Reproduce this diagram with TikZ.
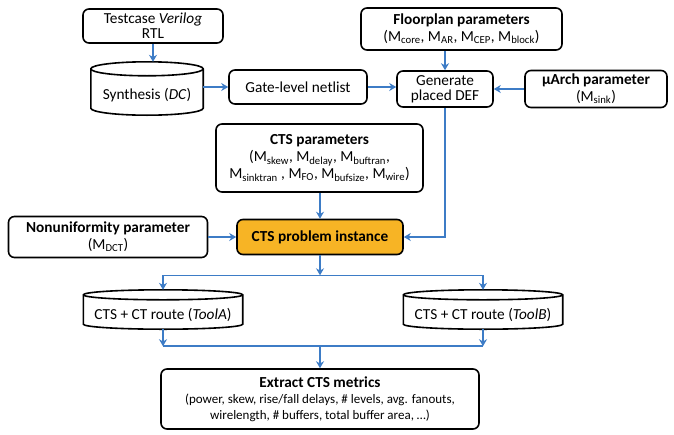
\documentclass[tikz,border=0pt]{standalone}
\usepackage{fontspec}
\setmainfont{Carlito}
\usepackage{tikz}
\usetikzlibrary{arrows.meta,calc,backgrounds}
\definecolor{flowblue}{HTML}{3D7CC6}
\definecolor{instorange}{HTML}{F7B425}

\begin{document}
\begin{tikzpicture}[
  x=1pt,y=1pt,
  font=\fontsize{15.3}{16.8}\selectfont,
  blk/.style={draw=black,line width=1.6pt,rounded corners=6pt,fill=white,
              inner sep=2pt,align=center},
  hot/.style={blk,fill=instorange},
  drum/.style={inner sep=0pt,align=center},
  outl/.style={draw=black,line width=1.6pt,fill=white},
  flow/.style={-{Stealth[length=7pt,width=8pt]},draw=flowblue,line width=1.5pt},
  wire/.style={draw=flowblue,line width=1.5pt}
]
\useasboundingbox (0,0) rectangle (674,-434);

%------ row 0 : inputs ---------------------------------------------------------
\node[blk,minimum width=140pt,minimum height=34pt] (rtl) at (153,-26)
      {Testcase \textit{Verilog}\\[-2pt]RTL};
\node[blk,minimum width=201pt,minimum height=42pt] (fpp) at (461.5,-29)
      {\textbf{Floorplan parameters}\\(M\textsubscript{core}, M\textsubscript{AR}, M\textsubscript{CEP}, M\textsubscript{block})};

%------ row 1 : synthesis -> netlist -> placed DEF ------------------------------
\node[drum,minimum width=112pt,minimum height=39pt] (syn) at (147,-95.5) {Synthesis (\textit{DC})};
\node[blk,minimum width=138pt,minimum height=34pt] (gln) at (298,-87) {Gate-level netlist};
\node[blk,minimum width=96pt,minimum height=36pt] (gpd) at (445,-89) {Generate\\[-2pt]placed DEF};
\node[blk,minimum width=142pt,minimum height=37pt] (uap) at (596,-89)
      {\textbf{µArch parameter}\\(M\textsubscript{sink})};

%------ row 2 : CTS setup --------------------------------------------------------
\node[blk,minimum width=207pt,minimum height=68pt] (ctp) at (319.5,-158)
      {\textbf{CTS parameters}\\(M\textsubscript{skew}, M\textsubscript{delay}, M\textsubscript{buftran},\\
       M\textsubscript{sinktran} , M\textsubscript{FO}, M\textsubscript{bufsize}, M\textsubscript{wire})};
\node[hot,minimum width=166pt,minimum height=35pt] (cpi) at (320,-237) {\textbf{CTS problem instance}};
\node[blk,minimum width=199pt,minimum height=41pt] (nup) at (108,-237)
      {\textbf{Nonuniformity parameter}\\(M\textsubscript{DCT})};

%------ row 3 : the two tools -----------------------------------------------------
\node[drum,minimum width=159pt,minimum height=29pt] (tla) at (163,-314.5) {CTS + CT route (\textit{ToolA})};
\node[drum,minimum width=159pt,minimum height=29pt] (tlb) at (483,-314.5) {CTS + CT route (\textit{ToolB})};

%------ row 4 : metrics ----------------------------------------------------------
\node[blk,minimum width=318pt,minimum height=60pt] (ecm) at (320,-399)
      {\textbf{Extract CTS metrics}\\[-1pt]
       {\fontsize{13}{15}\selectfont (power, skew, rise/fall delays, \# levels, avg. fanouts,}\\[-1pt]
       {\fontsize{13}{15}\selectfont wirelength, \# buffers, total buffer area, \dots)}};

%------ drum outlines -------------------------------------------------------------
\foreach \c/\r in {syn/7,tla/5,tlb/5}{
  \begin{scope}[on background layer]
  \draw[outl] let \p1=(\c.north west),\p2=(\c.south east),\n1={0.5*(\x2-\x1)} in
    (\x1,\y1+\r pt) -- (\x1,\y2+\r pt) arc[start angle=180,end angle=360,x radius=\n1,y radius=\r pt]
    -- (\x2,\y1+\r pt) arc[start angle=0,end angle=180,x radius=\n1,y radius=\r pt] -- cycle;
  \draw[outl,fill=none] let \p1=(\c.north west),\p2=(\c.south east),\n1={0.5*(\x2-\x1)} in
    (\x1,\y1+\r pt) arc[start angle=180,end angle=360,x radius=\n1,y radius=\r pt];
  \end{scope}
  \coordinate (\c-top) at ([yshift=2*\r pt]\c.north);
}

%------ top flow ------------------------------------------------------------------
\draw[flow] (rtl.south) -- (rtl.south |- syn-top);
\draw[flow] (syn.east |- gln.west) -- (gln.west);
\draw[flow] (gln.east) -- (gln.east -| gpd.west);
\draw[flow] (gpd.north |- fpp.south) -- (gpd.north);
\draw[flow] (uap.west) -- (gpd.east);
\draw[flow] (gpd.south) |- (cpi.east);

%------ into the instance ---------------------------------------------------------
\draw[flow] (ctp.south -| cpi.north) -- (cpi.north);
\draw[flow] (nup.east) -- (cpi.west);

%------ split / merge -------------------------------------------------------------
\coordinate (spl) at ([yshift=-20pt]cpi.south);
\coordinate (mrg) at ([yshift=22pt]ecm.north);
\draw[flow] (cpi.south) -- (spl);
\draw[wire] (spl -| tla-top) -- (spl -| tlb-top);
\draw[flow] (spl -| tla-top) -- (tla-top);
\draw[flow] (spl -| tlb-top) -- (tlb-top);
\draw[flow] (tla.south) -- (tla.south |- mrg);
\draw[flow] (tlb.south) -- (tlb.south |- mrg);
\draw[wire] (tla.south |- mrg) -- (tlb.south |- mrg);
\draw[flow] (mrg) -- (ecm.north);
\end{tikzpicture}
\end{document}
